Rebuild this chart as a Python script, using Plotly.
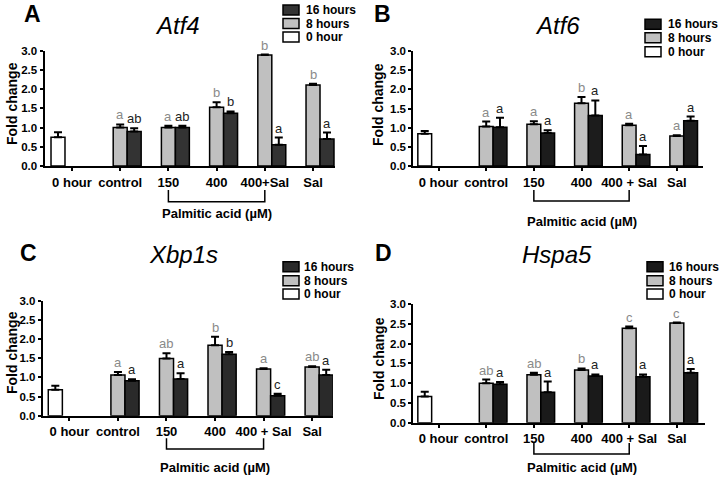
import plotly.graph_objects as go

# ---------------- data ----------------
cats_A = ["0 hour", "control", "150", "400", "400+Sal", "Sal"]
cats_BCD = ["0 hour", "control", "150", "400", "400 + Sal", "Sal"]

A_h0 = [0.75, None, None, None, None, None]
A_h0_err = [0.13, 0, 0, 0, 0, 0]
A_h8 = [None, 1.00, 1.00, 1.53, 2.89, 2.11]
A_h8_err = [0, 0.08, 0.05, 0.13, 0.01, 0.03]
A_h16 = [None, 0.90, 1.00, 1.37, 0.55, 0.70]
A_h16_err = [0, 0.08, 0.05, 0.05, 0.19, 0.17]
A_lab8 = ["", "a", "a", "b", "b", "b"]
A_lab16 = ["", "ab", "ab", "b", "a", "a"]

B_h0 = [0.84, None, None, None, None, None]
B_h0_err = [0.07, 0, 0, 0, 0, 0]
B_h8 = [None, 1.03, 1.09, 1.64, 1.06, 0.78]
B_h8_err = [0, 0.13, 0.08, 0.16, 0.04, 0.02]
B_h16 = [None, 1.01, 0.86, 1.32, 0.30, 1.18]
B_h16_err = [0, 0.25, 0.07, 0.39, 0.22, 0.11]
B_lab8 = ["", "a", "a", "b", "a", "a"]
B_lab16 = ["", "a", "a", "a", "a", "a"]

C_h0 = [0.68, None, None, None, None, None]
C_h0_err = [0.10, 0, 0, 0, 0, 0]
C_h8 = [None, 1.06, 1.49, 1.84, 1.22, 1.27]
C_h8_err = [0, 0.08, 0.14, 0.22, 0.02, 0.02]
C_h16 = [None, 0.91, 0.96, 1.60, 0.52, 1.06]
C_h16_err = [0, 0.04, 0.15, 0.06, 0.05, 0.14]
C_lab8 = ["", "a", "ab", "b", "a", "ab"]
C_lab16 = ["", "a", "a", "b", "c", "a"]

D_h0 = [0.66, None, None, None, None, None]
D_h0_err = [0.12, 0, 0, 0, 0, 0]
D_h8 = [None, 1.00, 1.21, 1.33, 2.39, 2.52]
D_h8_err = [0, 0.09, 0.05, 0.04, 0.04, 0.01]
D_h16 = [None, 0.97, 0.77, 1.18, 1.16, 1.26]
D_h16_err = [0, 0.06, 0.27, 0.04, 0.06, 0.10]
D_lab8 = ["", "ab", "ab", "b", "c", "c"]
D_lab16 = ["", "a", "a", "a", "a", "a"]

series_names = ["0 hour", "8 hours", "16 hours"]
genes = ["Atf4", "Atf6", "Xbp1s", "Hspa5"]
panel_letters = ["A", "B", "C", "D"]
y_ticks = [0.0, 0.5, 1.0, 1.5, 2.0, 2.5, 3.0]
bracket_label = "Palmitic acid (µM)"
y_title = "Fold change"

# ---------------- styling / layout ----------------
W, H = 720, 478
FONT = "Liberation Sans, Arial, Helvetica, sans-serif"
GRAY = "#c0c0c0"
LETTER_GRAY = "#8a8a8a"


def px(x):
    return x / W


def py(y):
    return 1 - y / H


panels = [
    dict(cats=cats_A, h0=A_h0, h0e=A_h0_err, h8=A_h8, h8e=A_h8_err, h16=A_h16, h16e=A_h16_err,
         l8=A_lab8, l16=A_lab16, dark="#333333",
         x0=44.5, x1=335, ytop=50.7, ybot=166, xr=[-0.57, 5.456],
         title=(177, 25), letter=(32, 14), ytitle=(12, 104),
         leg=(283, 304, [10, 23.5, 37]), br=(201.7, 190, 213.3)),
    dict(cats=cats_BCD, h0=B_h0, h0e=B_h0_err, h8=B_h8, h8e=B_h8_err, h16=B_h16, h16e=B_h16_err,
         l8=B_lab8, l16=B_lab16, dark="#1c1c1c",
         x0=413.3, x1=703, ytop=51, ybot=166, xr=[-0.53, 5.55],
         title=(557, 25), letter=(382, 14), ytitle=(378, 105),
         leg=(645, 666, [24.3, 37.7, 51.7]), br=(201, 190, 221.7)),
    dict(cats=cats_BCD, h0=C_h0, h0e=C_h0_err, h8=C_h8, h8e=C_h8_err, h16=C_h16, h16e=C_h16_err,
         l8=C_lab8, l16=C_lab16, dark="#2a2a2a",
         x0=42.7, x1=333, ytop=300.7, ybot=415.7, xr=[-0.55, 5.43],
         title=(183, 254), letter=(28, 253), ytitle=(12, 353),
         leg=(283, 302, [266.7, 280.7, 294]), br=(449, 438.3, 467.3)),
    dict(cats=cats_BCD, h0=D_h0, h0e=D_h0_err, h8=D_h8, h8e=D_h8_err, h16=D_h16, h16e=D_h16_err,
         l8=D_lab8, l16=D_lab16, dark="#1a1a1a",
         x0=413.3, x1=705, ytop=304, ybot=422.7, xr=[-0.53, 5.59],
         title=(557, 254), letter=(383, 253), ytitle=(379, 359),
         leg=(647, 667, [266.7, 280.7, 294]), br=(454, 443, 467.3)),
]

fig = go.Figure()
annotations = []
shapes = []
xs = list(range(6))

for k, p in enumerate(panels):
    sfx = "" if k == 0 else str(k + 1)
    xa, ya = "x" + sfx, "y" + sfx
    fills = ["white", GRAY, p["dark"]]
    vals = [p["h0"], p["h8"], p["h16"]]
    errs = [p["h0e"], p["h8e"], p["h16e"]]
    for name, v, e, fc in zip(series_names, vals, errs, fills):
        fig.add_trace(go.Bar(
            x=xs, y=v, name=name, xaxis=xa, yaxis=ya, showlegend=False,
            marker=dict(color=fc, line=dict(color="black", width=1.5)),
            error_y=dict(type="data", symmetric=False, array=e, arrayminus=[0] * 6,
                         thickness=2, width=4, color="black"),
        ))
    axis_common = dict(showline=True, linecolor="black", linewidth=2, ticks="outside",
                       ticklen=3, tickwidth=2, tickcolor="black", showgrid=False, zeroline=False,
                       automargin=False)
    fig.layout["xaxis" + sfx] = dict(
        domain=[px(p["x0"]), px(p["x1"])], range=p["xr"], anchor=ya,
        tickvals=xs, ticktext=p["cats"],
        tickfont=dict(family=FONT, size=13, color="black", weight="bold"), **axis_common)
    fig.layout["yaxis" + sfx] = dict(
        domain=[py(p["ybot"]), py(p["ytop"])], range=[0, 3], anchor=xa,
        tickvals=y_ticks, ticktext=[f"{t:.1f}" for t in y_ticks],
        tickfont=dict(family=FONT, size=11.5, color="black", weight="bold"), **axis_common)

    # significance letters
    for i in xs:
        if p["l8"][i]:
            annotations.append(dict(x=i, y=p["h8"][i] + p["h8e"][i], xref=xa, yref=ya,
                                    text=p["l8"][i], showarrow=False, xanchor="center",
                                    yanchor="bottom",
                                    font=dict(family=FONT, size=13, color=LETTER_GRAY)))
        if p["l16"][i]:
            annotations.append(dict(x=i + 0.29, y=p["h16"][i] + p["h16e"][i], xref=xa, yref=ya,
                                    text=p["l16"][i], showarrow=False, xanchor="center",
                                    yanchor="bottom",
                                    font=dict(family=FONT, size=13, color="#222222")))

    # title, panel letter, y title
    annotations.append(dict(x=px(p["title"][0]), y=py(p["title"][1]), xref="paper", yref="paper",
                            text=f"<i>{genes[k]}</i>", showarrow=False,
                            xanchor="center", yanchor="middle",
                            font=dict(family=FONT, size=24, color="black")))
    annotations.append(dict(x=px(p["letter"][0]), y=py(p["letter"][1]), xref="paper", yref="paper",
                            text=f"<b>{panel_letters[k]}</b>", showarrow=False,
                            xanchor="center", yanchor="middle",
                            font=dict(family=FONT, size=23, color="black")))
    annotations.append(dict(x=px(p["ytitle"][0]), y=py(p["ytitle"][1]), xref="paper", yref="paper",
                            text=f"<b>{y_title}</b>", showarrow=False, textangle=-90,
                            xanchor="center", yanchor="middle",
                            font=dict(family=FONT, size=14, color="black")))

    # legend (drawn manually)
    sq_x, tx, rows = p["leg"]
    for name, fc, ry in zip(series_names[::-1], fills[::-1], rows):
        shapes.append(dict(type="rect", xref="paper", yref="paper",
                           x0=px(sq_x), x1=px(sq_x + 16), y0=py(ry + 5), y1=py(ry - 5),
                           fillcolor=fc, line=dict(color="black", width=1.5)))
        annotations.append(dict(x=px(tx), y=py(ry), xref="paper", yref="paper",
                                text=f"<b>{name}</b>", showarrow=False,
                                xanchor="left", yanchor="middle",
                                font=dict(family=FONT, size=12, color="black")))

    # palmitic acid bracket
    by, btop, bty = p["br"]
    shapes.append(dict(type="path", xref=xa, yref="paper",
                       path=f"M 2,{py(btop)} L 2,{py(by)} L 4,{py(by)} L 4,{py(btop)}",
                       line=dict(color="black", width=1.5)))
    annotations.append(dict(x=3, y=py(bty), xref=xa, yref="paper",
                            text=f"<b>{bracket_label}</b>", showarrow=False,
                            xanchor="center", yanchor="middle",
                            font=dict(family=FONT, size=13, color="black")))

fig.update_layout(
    width=W, height=H, margin=dict(l=0, r=0, t=0, b=0, pad=0, autoexpand=False),
    paper_bgcolor="white", plot_bgcolor="white",
    barmode="group", bargap=0.13, bargroupgap=0,
    showlegend=False, annotations=annotations, shapes=shapes,
    font=dict(family=FONT, color="black"),
)

fig.write_html("out.html", config={"displayModeBar": False},
               post_script="document.body.style.margin='0';document.body.style.overflow='hidden';")
